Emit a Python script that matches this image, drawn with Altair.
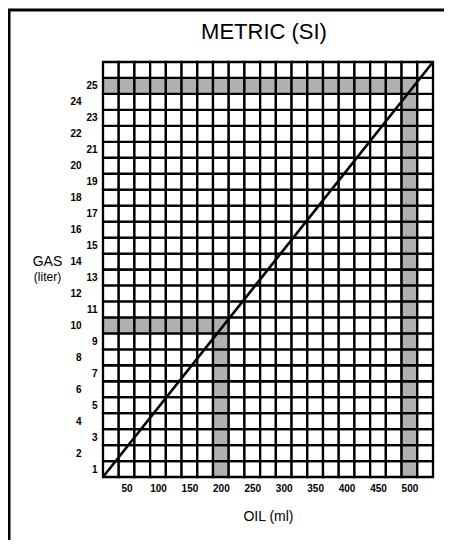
import altair as alt
import pandas as pd

# Grid categories (column / row centres)
oil_ml = [25, 50, 75, 100, 125, 150, 175, 200, 225, 250, 275, 300, 325, 350, 375,
          400, 425, 450, 475, 500, 525]
gas_liter = [1, 2, 3, 4, 5, 6, 7, 8, 9, 10, 11, 12, 13, 14, 15, 16, 17, 18, 19, 20,
             21, 22, 23, 24, 25, 26]

# Axis tick labels
oil_ticks = [50, 100, 150, 200, 250, 300, 350, 400, 450, 500]
gas_ticks_odd = [1, 3, 5, 7, 9, 11, 13, 15, 17, 19, 21, 23, 25]
gas_ticks_even = [2, 4, 6, 8, 10, 12, 14, 16, 18, 20, 22, 24]

# Highlighted readings (oil ml, gas liter)
mark_oil = [200, 500]
mark_gas = [10, 25]

# 50:1 mixing line (corner to corner of the grid)
mix_oil = [12.5, 537.5]
mix_gas = [0.5, 26.5]

rows = []
for o in oil_ml:
    for g in gas_liter:
        shaded = any((g == mg and o <= mo) or (o == mo and g <= mg)
                     for mo, mg in zip(mark_oil, mark_gas))
        rows.append({"oil": o, "gas": g, "shade": "yes" if shaded else "no"})
cells_df = pd.DataFrame(rows)
line_df = pd.DataFrame({"oil": mix_oil, "gas": mix_gas})

FONT = "Liberation Sans"
xscale = alt.Scale(domain=[12.5, 537.5], nice=False, zero=False)
yscale = alt.Scale(domain=[0.5, 26.5], nice=False, zero=False)

xaxis = alt.Axis(values=oil_ticks, title="OIL (ml)", domain=False, ticks=False, grid=False,
                 labelFont=FONT, labelFontSize=10, labelFontWeight="bold", labelPadding=6,
                 labelColor="black", format="d",
                 titleFont=FONT, titleFontSize=14, titleFontWeight="normal", titleColor="black",
                 titleY=39, titleBaseline="middle")

yaxis_odd = alt.Axis(values=gas_ticks_odd, orient="left", title="GAS", titleAngle=0,
                     titleX=-56, titleY=199, titleAlign="center", titleBaseline="middle",
                     titleFont=FONT, titleFontSize=14, titleFontWeight="normal", titleColor="black",
                     labelFont=FONT, labelFontSize=10, labelFontWeight="bold", labelPadding=6,
                     labelColor="black", format="d", domain=False, ticks=False, grid=False)
yaxis_even = alt.Axis(values=gas_ticks_even, orient="left", title="(liter)", titleAngle=0,
                      titleX=-56, titleY=214, titleAlign="center", titleBaseline="middle",
                      titleFont=FONT, titleFontSize=12, titleFontWeight="normal", titleColor="black",
                      labelFont=FONT, labelFontSize=10, labelFontWeight="bold", labelPadding=22,
                      labelColor="black", format="d", domain=False, ticks=False, grid=False)

cells = alt.Chart(cells_df).transform_calculate(
    x0="datum.oil - 12.5", x1="datum.oil + 12.5",
    y0="datum.gas - 0.5", y1="datum.gas + 0.5"
).mark_rect(stroke="black", strokeWidth=2.3).encode(
    x=alt.X("x0:Q", scale=xscale, axis=xaxis),
    x2="x1:Q",
    y=alt.Y("y0:Q", scale=yscale, axis=yaxis_odd),
    y2="y1:Q",
    fill=alt.Fill("shade:N", scale=alt.Scale(domain=["no", "yes"], range=["white", "#b0b0b0"]),
                  legend=None),
)

mix_line = alt.Chart(line_df).mark_line(color="black", strokeWidth=2.6).encode(
    x=alt.X("oil:Q", scale=xscale, axis=xaxis),
    y=alt.Y("gas:Q", scale=yscale, axis=yaxis_even),
)

frame_df = pd.DataFrame({"a": [0]})
frame_top = alt.Chart(frame_df).mark_rule(color="black", strokeWidth=3).encode(
    x=alt.value(-95), x2=alt.value(345), y=alt.value(-52))
frame_left = alt.Chart(frame_df).mark_rule(color="black", strokeWidth=3).encode(
    x=alt.value(-94), y=alt.value(-52), y2=alt.value(480))

chart = alt.layer(cells, mix_line, frame_top, frame_left).resolve_axis(
    y="independent"
).properties(
    width=330, height=415,
    title=alt.TitleParams("METRIC (SI)", font=FONT, fontSize=22, fontWeight="normal",
                          color="black", anchor="middle", baseline="alphabetic",
                          offset=0, dy=52, dx=-4),
    autosize=alt.AutoSizeParams(type="none"),
    padding={"left": 95, "top": 54, "right": 11, "bottom": 63},
).configure_view(stroke=None).configure(background="white")

chart.save("out.html", embed_options={"renderer": "svg", "actions": False})
